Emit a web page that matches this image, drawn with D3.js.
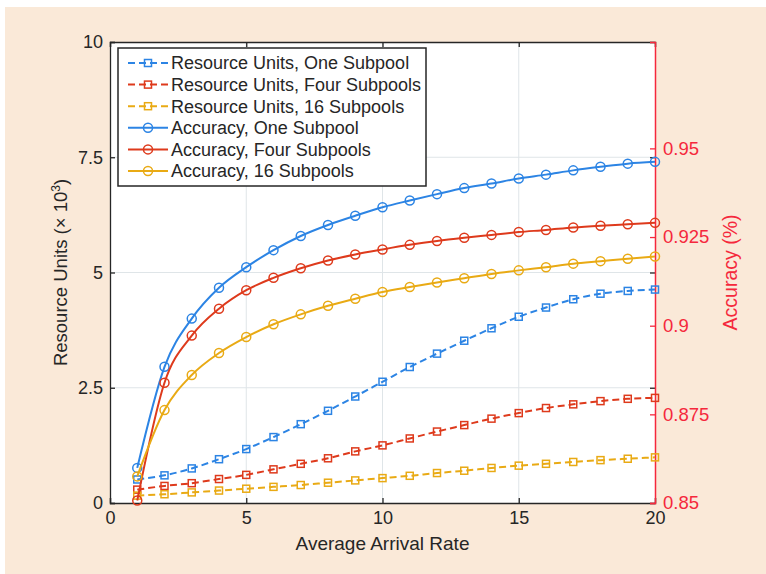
<!DOCTYPE html>
<html><head><meta charset="utf-8">
<script src="https://cdn.jsdelivr.net/npm/d3@7/dist/d3.min.js"></script>
<style>
html,body{margin:0;padding:0;background:#fff;}
svg{display:block;}
text{font-family:"Liberation Sans",Arial,Helvetica,sans-serif;}
</style></head>
<body>
<svg id="chart" width="766" height="574"></svg>
<script>
const arrivalRate = d3.range(1, 21);
const resOne  = [0.51,0.60,0.75,0.95,1.17,1.43,1.71,2.00,2.31,2.63,2.95,3.24,3.52,3.79,4.04,4.24,4.42,4.54,4.60,4.63];
const resFour = [0.29,0.37,0.43,0.52,0.61,0.73,0.85,0.97,1.12,1.25,1.40,1.55,1.69,1.83,1.95,2.06,2.14,2.21,2.26,2.28];
const res16   = [0.16,0.19,0.23,0.27,0.31,0.35,0.39,0.44,0.49,0.54,0.59,0.65,0.70,0.76,0.81,0.85,0.89,0.93,0.96,0.99];
const accOne  = [0.8599,0.8884,0.9020,0.9107,0.9165,0.9213,0.9253,0.9284,0.9310,0.9334,0.9353,0.9371,0.9388,0.9401,0.9415,0.9426,0.9438,0.9448,0.9457,0.9462];
const accFour = [0.8507,0.8839,0.8972,0.9048,0.9100,0.9135,0.9162,0.9184,0.9201,0.9215,0.9228,0.9239,0.9248,0.9256,0.9264,0.9270,0.9277,0.9282,0.9286,0.9290];
const acc16   = [0.8575,0.8762,0.8861,0.8923,0.8968,0.9004,0.9032,0.9056,0.9076,0.9095,0.9109,0.9122,0.9134,0.9146,0.9156,0.9165,0.9175,0.9182,0.9189,0.9195];
const seriesNames = ["Resource Units, One Subpool","Resource Units, Four Subpools","Resource Units, 16 Subpools","Accuracy, One Subpool","Accuracy, Four Subpools","Accuracy, 16 Subpools"];
const xTicks = [0,5,10,15,20];
const leftTicks = [0,2.5,5,7.5,10];
const leftTickLabels = ["0","2.5","5","7.5","10"];
const rightTicks = [0.85,0.875,0.9,0.925,0.95];
const rightTickLabels = ["0.85","0.875","0.9","0.925","0.95"];

const BLUE="#2c84e4", RED="#de3a1c", YEL="#e9aa14", AXRED="#f5283c", DARK="#262626";

const svg = d3.select("#chart");
// backgrounds
svg.append("rect").attr("width",766).attr("height",574).attr("fill","#ffffff");
svg.append("rect").attr("x",5).attr("y",7).attr("width",761).attr("height",567).attr("fill","#fae9d8");

const L=110, R=655, T=42, B=503;
const x = d3.scaleLinear().domain([0,20]).range([L,R]);
const yL = d3.scaleLinear().domain([0,10]).range([B,T]);
const yR = d3.scaleLinear().domain([0.85,0.98]).range([B,T]);

svg.append("rect").attr("x",L).attr("y",T).attr("width",R-L).attr("height",B-T).attr("fill","#fff");

// grid
const g = svg.append("g");
g.selectAll(".gx").data(xTicks.slice(1,-1)).enter().append("line")
  .attr("x1",d=>x(d)).attr("x2",d=>x(d)).attr("y1",T).attr("y2",B)
  .attr("stroke","#dfe5e8").attr("stroke-width",1);
g.selectAll(".gy").data(leftTicks.slice(1,-1)).enter().append("line")
  .attr("x1",L).attr("x2",R).attr("y1",d=>yL(d)).attr("y2",d=>yL(d))
  .attr("stroke","#dfe5e8").attr("stroke-width",1);

// axes
const xAxis = d3.axisBottom(x).tickValues(xTicks).tickSize(-5).tickPadding(8).tickFormat(d3.format("d"));
const gx = svg.append("g").attr("transform",`translate(0,${B})`).call(xAxis);
const xTop = d3.axisTop(x).tickValues(xTicks).tickSize(-5).tickFormat("");
const gxt = svg.append("g").attr("transform",`translate(0,${T})`).call(xTop);
const yAxisL = d3.axisLeft(yL).tickValues(leftTicks).tickSize(-5).tickPadding(7).tickFormat((d,i)=>leftTickLabels[i]);
const gyl = svg.append("g").attr("transform",`translate(${L},0)`).call(yAxisL);
const yMirror = d3.axisRight(yL).tickValues(leftTicks).tickSize(-5).tickFormat("");
const gym = svg.append("g").attr("transform",`translate(${R},0)`).call(yMirror);
const yAxisR = d3.axisRight(yR).tickValues(rightTicks).tickSize(-5).tickPadding(8).tickFormat((d,i)=>rightTickLabels[i]);
const gyr = svg.append("g").attr("transform",`translate(${R},0)`).call(yAxisR);

[gx,gxt,gyl,gym].forEach(a=>{
  a.select(".domain").attr("stroke",DARK).attr("stroke-width",1.3);
  a.selectAll(".tick line").attr("stroke",DARK).attr("stroke-width",1.3);
  a.selectAll(".tick text").attr("fill",DARK).style("font-size","18px");
});
gym.select(".domain").remove();
gyr.select(".domain").attr("stroke",AXRED).attr("stroke-width",1.5);
gyr.selectAll(".tick line").attr("stroke",AXRED).attr("stroke-width",1.3);
gyr.selectAll(".tick text").attr("fill",AXRED).style("font-size","18.5px");

// axis labels
svg.append("text").attr("x",(L+R)/2).attr("y",550).attr("text-anchor","middle")
  .attr("fill",DARK).style("font-size","19px").text("Average Arrival Rate");
const yl = svg.append("text").attr("transform",`translate(67,${(T+B)/2}) rotate(-90)`)
  .attr("text-anchor","middle").attr("fill",DARK).style("font-size","18.5px");
yl.append("tspan").text("Resource Units (× 10");
yl.append("tspan").attr("dy",-7).style("font-size","12px").text("3");
yl.append("tspan").attr("dy",7).text(")");
svg.append("text").attr("transform",`translate(737,${(T+B)/2}) rotate(-90)`)
  .attr("text-anchor","middle").attr("fill",AXRED).style("font-size","19.5px").text("Accuracy (%)");

// series
const series = [
  {name:seriesNames[0], vals:resOne, y:yL, color:BLUE, dash:true, mk:"sq"},
  {name:seriesNames[1], vals:resFour, y:yL, color:RED, dash:true, mk:"sq"},
  {name:seriesNames[2], vals:res16, y:yL, color:YEL, dash:true, mk:"sq"},
  {name:seriesNames[3], vals:accOne, y:yR, color:BLUE, dash:false, mk:"ci"},
  {name:seriesNames[4], vals:accFour, y:yR, color:RED, dash:false, mk:"ci"},
  {name:seriesNames[5], vals:acc16, y:yR, color:YEL, dash:false, mk:"ci"},
];
const plot = svg.append("g");
function marker(sel, mk, color){
  if(mk==="sq"){
    sel.append("rect").attr("x",-3.5).attr("y",-3.5).attr("width",7).attr("height",7)
      .attr("fill","none").attr("stroke",color).attr("stroke-width",1.5);
  } else {
    sel.append("circle").attr("r",4.5).attr("fill","none").attr("stroke",color).attr("stroke-width",1.5);
  }
}
series.forEach(s=>{
  const pts = arrivalRate.map((r,i)=>[x(r), s.y(s.vals[i])]);
  const line = d3.line().curve(d3.curveMonotoneX);
  plot.append("path").attr("d",line(pts)).attr("fill","none").attr("stroke",s.color)
    .attr("stroke-width",2).attr("stroke-dasharray",s.dash?"7,4":null);
  pts.forEach(p=>{
    const m = plot.append("g").attr("transform",`translate(${p[0]},${p[1]})`);
    marker(m, s.mk, s.color);
  });
});

// legend
const lg = svg.append("g");
lg.append("rect").attr("x",118).attr("y",48).attr("width",308).attr("height",138)
  .attr("fill","#fff").attr("stroke",DARK).attr("stroke-width",1.5);
series.forEach((s,i)=>{
  const cy = 63 + i*21.6;
  lg.append("line").attr("x1",128).attr("x2",168).attr("y1",cy).attr("y2",cy)
    .attr("stroke",s.color).attr("stroke-width",2).attr("stroke-dasharray",s.dash?"7,4":null);
  const m = lg.append("g").attr("transform",`translate(148,${cy})`);
  marker(m, s.mk, s.color);
  lg.append("text").attr("x",171).attr("y",cy).attr("dy","0.36em").attr("fill",DARK)
    .style("font-size","18px").text(s.name);
});
</script>
</body></html>
